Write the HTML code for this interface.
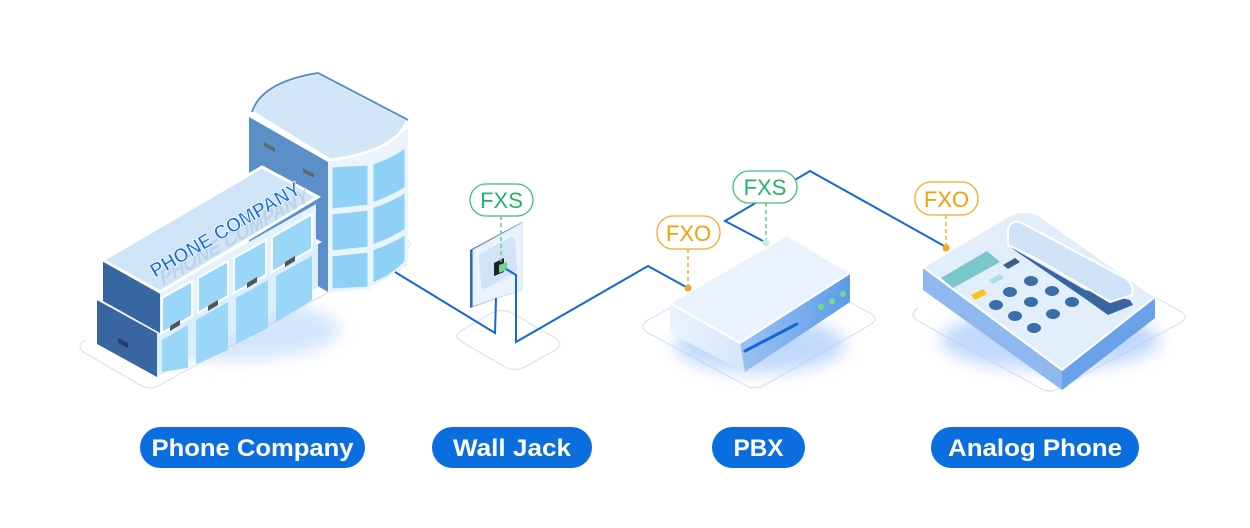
<!DOCTYPE html>
<html><head><meta charset="utf-8"><style>
html,body{margin:0;padding:0;background:#fff;width:1250px;height:528px;overflow:hidden}
svg{display:block}
</style></head><body>
<svg width="1250" height="528" viewBox="0 0 1250 528" xmlns="http://www.w3.org/2000/svg" font-family="Liberation Sans, sans-serif">
<defs>
<filter id="blur" x="-50%" y="-50%" width="200%" height="200%"><feGaussianBlur stdDeviation="8"/></filter>
<linearGradient id="pbxs" x1="0" x2="1"><stop offset="0" stop-color="#eaf3fd"/><stop offset="1" stop-color="#b9d5f6"/></linearGradient>
<linearGradient id="pbxr" x1="0" x2="1"><stop offset="0" stop-color="#9cc2f2"/><stop offset="1" stop-color="#5d9be8"/></linearGradient>
</defs>
<g fill="none" stroke="#d4e5f8" stroke-width="1.2">
<path d="M85,340 Q75,347 85,353 L140,385 Q150,391 160,385 L405,250 Q415,244 405,238 L350,206"/>
<path d="M462,330 Q452,336 462,342 L505,367 Q515,372 525,367 L555,350 Q565,344 555,338 L512,313 Q502,308 492,313 Z"/>
<path d="M648,320 Q638,327 648,333 L745,385 Q755,391 765,385 L870,325 Q880,319 870,313 L775,262 Q765,256 755,262 Z"/>
<path d="M918,308 Q908,315 918,321 L1040,388 Q1050,394 1060,388 L1180,323 Q1190,317 1180,311 L1060,245"/>
</g>
<ellipse cx="230" cy="330" rx="110" ry="30" fill="#b8d4fb" opacity=".6" filter="url(#blur)"/>
<ellipse cx="760" cy="345" rx="85" ry="28" fill="#a9c9fa" opacity=".7" filter="url(#blur)"/>
<ellipse cx="1050" cy="340" rx="110" ry="30" fill="#a9c9fa" opacity=".7" filter="url(#blur)"/>

<path d="M249,117 L328,162 L328,292 L249,246 Z" fill="#5a8fc8"/>
<path d="M328,160 Q370,160 408,128 L408,265 Q370,292 328,292 Z" fill="#e9f4fd"/>
<g fill="#8fd0f6" stroke="#e9f4fd" stroke-width="3">
<path d="M331,166 L369,164 L369,206 L331,210 Z"/><path d="M372,163 Q390,158 406,146 L406,188 Q390,198 372,204 Z"/>
<path d="M331,213 L369,209 L369,248 L331,252 Z"/><path d="M372,207 Q390,201 406,191 L406,230 Q390,240 372,246 Z"/>
<path d="M331,255 L369,251 L369,288 L331,290 Z"/><path d="M372,249 Q390,243 406,233 L406,262 Q390,278 372,284 Z"/>
</g>
<path d="M252,112 Q262,82 318,73 L408,120 Q395,152 330,160 Z" fill="#d3e6f8" stroke="#fff" stroke-width="3"/>
<path d="M252,112 Q262,82 318,73 L408,120" fill="none" stroke="#5a8fc8" stroke-width="2"/>
<polygon points="264,142 275,148 275,152 264,146" fill="#666"/>
<polygon points="303,168 314,174 314,178 303,172" fill="#666"/>

<polygon points="97,300 157,333 157,377 97,344" fill="#3866a0"/>
<polygon points="157,333 318,243 318,287 157,377" fill="#dbeefb"/>
<g fill="#9ad6f7"><polygon points="162,340 188,325 188,368 162,372"/><polygon points="196,320 228,302 228,350 196,364"/><polygon points="236,298 268,280 268,328 236,344"/><polygon points="276,276 312,256 312,300 276,322"/></g>
<polygon points="97,300 157,333 322,242 300,230 260,250" fill="#f4f9fe"/>
<polygon points="118,338 128,343 128,348 118,343" fill="#223f70"/>
<polygon points="103,260 160,292 160,333 103,301" fill="#3866a0"/>
<polygon points="160,292 316,204 316,246 160,334" fill="#e3f1fc"/>
<g fill="#9ad6f7" stroke="#fff" stroke-width="2"><polygon points="162,298 192,281 192,316 162,333"/><polygon points="198,278 228,261 228,296 198,313"/><polygon points="234,258 266,240 266,275 234,293"/><polygon points="272,237 312,214 312,249 272,272"/></g>
<polygon points="103,260 262,167 318,197 160,292" fill="#cfe4f7" stroke="#fff" stroke-width="3"/>
<g fill="#555"><polygon points="170,326 180,320 180,325 170,331"/><polygon points="208,306 218,300 218,305 208,311"/><polygon points="247,283 257,277 257,282 247,288"/><polygon points="285,262 295,256 295,261 285,267"/></g>
<text x="0" y="0" font-size="20" font-weight="bold" fill="#b4cbe6" opacity=".7" transform="translate(162,286) rotate(-30) skewX(-20)" textLength="170" lengthAdjust="spacingAndGlyphs">PHONE COMPANY</text>
<text x="0" y="0" font-size="20" font-weight="bold" fill="#1570e0" stroke="#fff" stroke-width=".8" transform="translate(155,278) rotate(-30)" textLength="170" lengthAdjust="spacingAndGlyphs">PHONE COMPANY</text>

<polygon points="470,250 522,222 522,290 470,308" fill="#3866a0"/>
<polygon points="473,250 522,223 522,290 473,306" fill="#eaf3fd" stroke="#cfe2f7"/>
<polygon points="482,256 512,240 514,270 484,286" fill="#d2e3f7" stroke="#d2e3f7" stroke-width="6" stroke-linejoin="round"/>
<polygon points="494,263 504,258 504,272 494,276" fill="#222"/>
<polygon points="499,265 507,262 507,270 499,273" fill="#6fd68e"/>

<polygon points="670,303 670,333 745,372 850,302 850,273 740,343" fill="url(#pbxs)"/>
<polygon points="740,343 850,273 850,302 745,372" fill="url(#pbxr)"/>
<polygon points="670,303 787,235 850,273 740,343" fill="#eaf3fd" stroke="#fff" stroke-width="2" stroke-linejoin="round"/>
<line x1="745" y1="351" x2="797" y2="324" stroke="#1268d8" stroke-width="3" stroke-linecap="round"/>
<g fill="#6fe08a"><circle cx="821" cy="307" r="3"/><circle cx="832" cy="301" r="3"/><circle cx="843" cy="294" r="3"/></g>

<polygon points="923,267 923,290 1062,390 1155,318 1155,297 1062,370" fill="#8fb8ee"/>
<polygon points="1062,370 1155,297 1155,318 1062,390" fill="#6aa2ea"/>
<path d="M923,267 L1010,215 Q1025,208 1040,216 L1155,297 L1062,370 Z" fill="#e3eefb" stroke="#fff" stroke-width="2" stroke-linejoin="round"/>
<polygon points="941,278 987,251 1000,262 953,288" fill="#79c7cd"/>
<polygon points="1003,265 1015,258 1020,262 1008,269" fill="#3e5e80"/>
<polygon points="989,280 1000,274 1004,278 993,284" fill="#a7dfe2"/>
<polygon points="971,295 983,289 987,294 975,300" fill="#f5c518"/>
<g fill="#3a6ea8">
<ellipse cx="1031" cy="281" rx="7" ry="5"/><ellipse cx="1010" cy="292" rx="7" ry="5"/><ellipse cx="1052" cy="291" rx="7" ry="5"/>
<ellipse cx="996" cy="305" rx="7" ry="5"/><ellipse cx="1031" cy="302" rx="7" ry="5"/><ellipse cx="1072" cy="302" rx="7" ry="5"/>
<ellipse cx="1015" cy="316" rx="7" ry="5"/><ellipse cx="1053" cy="314" rx="7" ry="5"/><ellipse cx="1034" cy="328" rx="7" ry="5"/>
</g>
<path d="M1007,245 L1085,290 L1130,300 L1133,305 L1108,315 L1087,300 Z" fill="#3866a0"/>
<path d="M1008,230 Q1010,220 1020,222 L1125,278 Q1135,285 1132,295 L1110,302 L1090,290 L1035,258 L1008,245 Z" fill="#cfe2f8" stroke="#fff" stroke-width="2"/>

<g fill="none" stroke="#1268d8" stroke-width="2">
<polyline points="395,272 495,333 496,298"/>
<polyline points="506,269 516,275 516,342 648,266 686,287"/>
<polyline points="763,241 725,221 810,171 946,247"/>
</g>
<g stroke-width="1.5" stroke-dasharray="4,3">
<line x1="501" y1="216" x2="501" y2="264" stroke="#5fcf8f"/>
<line x1="766" y1="203" x2="766" y2="242" stroke="#5fcf8f"/>
<line x1="688" y1="249" x2="688" y2="286" stroke="#f7a823"/>
<line x1="946" y1="215" x2="946" y2="246" stroke="#f7a823"/>
</g>
<circle cx="688" cy="288" r="3.5" fill="#f7a823"/>
<circle cx="946" cy="248" r="3.5" fill="#f7a823"/>
<circle cx="766" cy="243" r="3.5" fill="#c8f0d6"/>

<g font-size="22">
<rect x="470" y="184" width="63" height="32" rx="16" fill="#fff" stroke="#3cc07a" stroke-width="1.3"/>
<text x="501.5" y="208" text-anchor="middle" fill="#22b566">FXS</text>
<rect x="733" y="171" width="64" height="32" rx="16" fill="#fff" stroke="#3cc07a" stroke-width="1.3"/>
<text x="765" y="195" text-anchor="middle" fill="#22b566">FXS</text>
<rect x="657" y="216" width="63" height="33" rx="16" fill="#fff" stroke="#f7a823" stroke-width="1.3"/>
<text x="688.5" y="241" text-anchor="middle" fill="#f5a000">FXO</text>
<rect x="915" y="182" width="63" height="33" rx="16" fill="#fff" stroke="#f7a823" stroke-width="1.3"/>
<text x="946.5" y="207" text-anchor="middle" fill="#f5a000">FXO</text>
</g>

<g fill="#0a6edf">
<rect x="140" y="427" width="225" height="41" rx="20.5"/>
<rect x="432" y="427" width="160" height="41" rx="20.5"/>
<rect x="712" y="427" width="93" height="41" rx="20.5"/>
<rect x="931" y="427" width="208" height="41" rx="20.5"/>
</g>
<g fill="#fff" font-size="24" font-weight="bold" text-anchor="middle">
<text x="252.5" y="456" textLength="202" lengthAdjust="spacingAndGlyphs">Phone Company</text>
<text x="512" y="456" textLength="118" lengthAdjust="spacingAndGlyphs">Wall Jack</text>
<text x="758.5" y="456" textLength="50" lengthAdjust="spacingAndGlyphs">PBX</text>
<text x="1035" y="456" textLength="174" lengthAdjust="spacingAndGlyphs">Analog Phone</text>
</g>
</svg>
</body></html>
